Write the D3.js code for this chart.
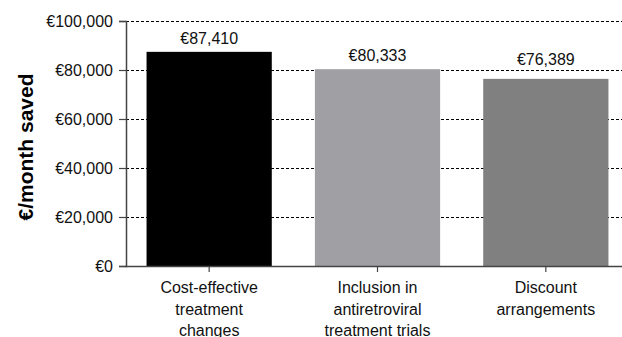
<!DOCTYPE html>
<html>
<head>
<meta charset="utf-8">
<script src="https://cdn.jsdelivr.net/npm/d3@7"></script>
<style>
  body { margin: 0; background: #fff; }
  svg { display: block; font-family: "Liberation Sans", Arial, sans-serif; }
</style>
</head>
<body>
<div id="root"></div>
<script>
const categories = [
  ["Cost-effective", "treatment", "changes"],
  ["Inclusion in", "antiretroviral", "treatment trials"],
  ["Discount", "arrangements"]
];
const values = [87410, 80333, 76389];
const valueLabels = ["€87,410", "€80,333", "€76,389"];
const barColors = ["#000000", "#a0a0a4", "#808080"];
const yTicks = [0, 20000, 40000, 60000, 80000, 100000];
const yTickLabels = ["€0", "€20,000", "€40,000", "€60,000", "€80,000", "€100,000"];
const yTitle = "€/month saved";

const W = 622, H = 337;
const plotLeft = 126, plotTop = 21, plotBottom = 266, plotRight = 630;
// label lift above bar top (last one sits clear of the 80k gridline)
const labelLift = [8, 8, 14];

const svg = d3.select("#root").append("svg")
    .attr("width", W)
    .attr("height", H);

const x = d3.scaleBand()
    .domain(d3.range(values.length))
    .range([plotLeft - 1, plotRight])
    .paddingInner(0.256)
    .paddingOuter(0.128);

const y = d3.scaleLinear()
    .domain([0, 100000])
    .range([plotBottom, plotTop]);

// dashed gridlines
svg.append("g")
    .selectAll("line")
    .data(yTicks.filter(d => d > 0))
    .enter().append("line")
    .attr("x1", plotLeft)
    .attr("x2", W)
    .attr("y1", d => Math.round(y(d)) + 0.5)
    .attr("y2", d => Math.round(y(d)) + 0.5)
    .attr("stroke", "#000")
    .attr("stroke-width", 1)
    .attr("stroke-dasharray", "3,2");

// bars
svg.selectAll(".bar")
    .data(values)
    .enter().append("rect")
    .attr("class", "bar")
    .attr("x", (d, i) => x(i))
    .attr("width", x.bandwidth())
    .attr("y", d => y(d))
    .attr("height", d => y(0) - y(d))
    .attr("fill", (d, i) => barColors[i]);

// value labels
svg.selectAll(".val")
    .data(values)
    .enter().append("text")
    .attr("class", "val")
    .attr("x", (d, i) => x(i) + x.bandwidth() / 2)
    .attr("y", (d, i) => y(d) - labelLift[i])
    .attr("text-anchor", "middle")
    .attr("font-size", 16)
    .attr("fill", "#111")
    .text((d, i) => valueLabels[i]);

// y axis
const yAxis = d3.axisLeft(y)
    .tickValues(yTicks)
    .tickFormat((d, i) => yTickLabels[i])
    .tickSize(7)
    .tickPadding(6);

const yg = svg.append("g")
    .attr("transform", "translate(" + plotLeft + ",0)")
    .call(yAxis);
yg.select(".domain").attr("stroke", "#444").attr("stroke-width", 1.5);
yg.selectAll(".tick line").attr("stroke", "#444").attr("stroke-width", 1.2);
yg.selectAll(".tick text")
    .attr("font-size", 16)
    .attr("fill", "#111")
    .attr("font-family", "Liberation Sans, Arial, sans-serif");

// x axis
const xAxis = d3.axisBottom(x)
    .tickSize(6)
    .tickSizeOuter(0)
    .tickFormat("");

const xg = svg.append("g")
    .attr("transform", "translate(0," + plotBottom + ")")
    .call(xAxis);
xg.select(".domain").attr("stroke", "#444").attr("stroke-width", 1.5);
xg.selectAll(".tick line").attr("stroke", "#444").attr("stroke-width", 1.2);

// category labels
const cat = svg.selectAll(".cat")
    .data(categories)
    .enter().append("text")
    .attr("class", "cat")
    .attr("text-anchor", "middle")
    .attr("font-size", 16)
    .attr("fill", "#111")
    .attr("x", (d, i) => x(i) + x.bandwidth() / 2)
    .attr("y", plotBottom + 27);

cat.selectAll("tspan")
    .data(d => d)
    .enter().append("tspan")
    .attr("x", function() { return this.parentNode.getAttribute("x"); })
    .attr("dy", (d, i) => i === 0 ? 0 : 21.5)
    .text(d => d);

// y title
svg.append("text")
    .attr("transform", "translate(33,147) rotate(-90)")
    .attr("text-anchor", "middle")
    .attr("font-size", 21)
    .attr("font-weight", "bold")
    .attr("fill", "#000")
    .text(yTitle);
</script>
</body>
</html>
